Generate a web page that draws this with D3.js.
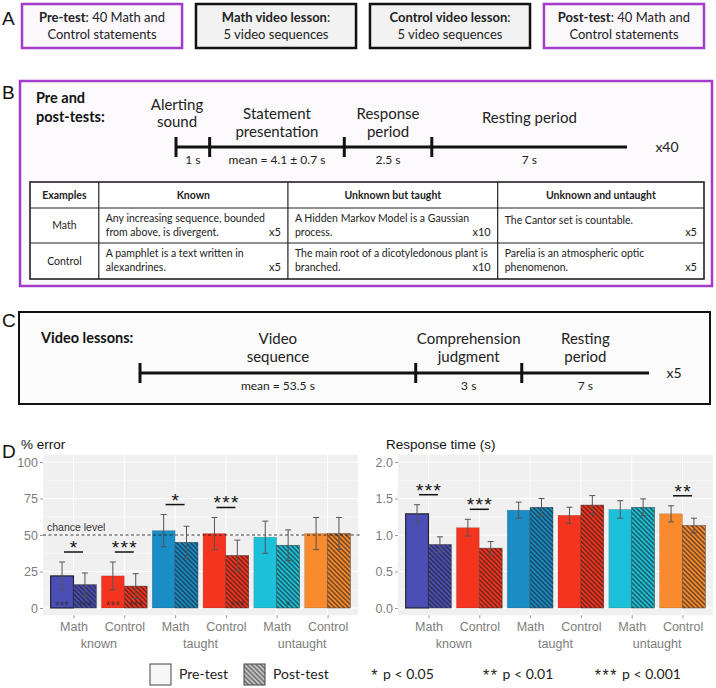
<!DOCTYPE html>
<html>
<head>
<meta charset="utf-8">
<script src="https://cdn.jsdelivr.net/npm/d3@7"></script>
<style>
  body { margin: 0; background: #fff; }
  svg { display: block; }
</style>
</head>
<body>
<div id="figure"></div>
<script>
// panel A: steps of the study
const stepTitles = ["Pre-test", "Math video lesson", "Control video lesson", "Post-test"];
const stepRest = [": 40 Math and", ":", ":", ": 40 Math and"];
const stepLine2 = ["Control statements", "5 video sequences", "5 video sequences", "Control statements"];

// panel B: one test trial
const testPhases = [["Alerting", "sound"], ["Statement", "presentation"], ["Response", "period"], ["Resting period"]];
const testDurations = ["1 s", "mean = 4.1 \u00b1 0.7 s", "2.5 s", "7 s"];
const testPhaseWeights = [1, 4, 2.6, 5.8]; // schematic widths, not to scale
const testRepeat = "x40";

const tableCols = ["Examples", "Known", "Unknown but taught", "Unknown and untaught"];
const tableColWeights = [1, 2.75, 3.05, 3];
const tableRows = ["Math", "Control"];
const mathExamples = [
    ["Any increasing sequence, bounded", "from above, is divergent."],
    ["A Hidden Markov Model is a Gaussian", "process."],
    ["The Cantor set is countable."],
];
const controlExamples = [
    ["A pamphlet is a text written in", "alexandrines."],
    ["The main root of a dicotyledonous plant is", "branched."],
    ["Parelia is an atmospheric optic", "phenomenon."],
];
const exampleCounts = ["x5", "x10", "x5"];

// panel C: one video sequence
const videoPhases = [["Video", "sequence"], ["Comprehension", "judgment"], ["Resting", "period"]];
const videoDurations = ["mean = 53.5 s", "3 s", "7 s"];
const videoPhaseWeights = [2.6, 1, 1.2];
const videoRepeat = "x5";

// panel D: results, one entry per statement type
const subjects = ["Math", "Control", "Math", "Control", "Math", "Control"];
const knowledge = ["known", "taught", "untaught"];

const errorPre = [22, 22, 53, 51, 48.5, 51];
const errorPreSE = [9.5, 9.5, 11, 11, 11, 11];
const errorPost = [16, 15, 45, 36, 43, 51];
const errorPostSE = [8, 8.5, 11, 10.5, 10.5, 11];
const errorSig = ["*", "***", "*", "***", "", ""];
const errorVsChancePre = ["***", "***", "", "", "", ""];
const errorVsChancePost = ["***", "***", "", "***", "*", ""];
const chanceLevel = 50;
const errorTicks = [0, 25, 50, 75, 100];

const rtPre = [1.29, 1.10, 1.34, 1.27, 1.35, 1.29];
const rtPreSE = [0.125, 0.115, 0.11, 0.11, 0.12, 0.11];
const rtPost = [0.87, 0.82, 1.38, 1.41, 1.38, 1.13];
const rtPostSE = [0.105, 0.09, 0.12, 0.13, 0.115, 0.10];
const rtSig = ["***", "***", "", "", "", "**"];
const rtTicks = [0, 0.5, 1, 1.5, 2];

const sigLegend = [["*", "p < 0.05"], ["**", "p < 0.01"], ["***", "p < 0.001"]];

(function () {
    const W = 716, H = 688;
    const SANS = "Lato, 'Open Sans', sans-serif";
    const ARIAL = "'Liberation Sans', Arial, sans-serif";
    const PURPLE = "#a43ccb";
    const groupColors = ["#4b4eb4", "#f4341f", "#1a8dc6", "#f4341f", "#1cc1d9", "#f98a2d"];

    const svg = d3.select("#figure").append("svg")
        .attr("width", W).attr("height", H)
        .attr("viewBox", [0, 0, W, H]);
    const defs = svg.append("defs");

    function panelLetter(letter, x, y) {
        svg.append("text").attr("x", x).attr("y", y).attr("dy", "0.35em")
            .attr("font-family", ARIAL).attr("font-size", 19).attr("fill", "#111")
            .text(letter);
    }

    // ---------- A ----------
    panelLetter("A", 2, 18);
    const stepX = d3.scaleBand().domain(d3.range(stepTitles.length)).range([22, 704]).paddingInner(0.08);
    stepTitles.forEach((t, i) => {
        const purple = i === 0 || i === stepTitles.length - 1;
        const x = stepX(i), w = stepX.bandwidth();
        svg.append("rect").attr("x", x).attr("y", 4).attr("width", w).attr("height", 44)
            .attr("fill", purple ? "#fcf9fd" : "#f2f2f2")
            .attr("stroke", purple ? PURPLE : "#111").attr("stroke-width", 2.5);
        const txt = svg.append("text").attr("x", x + w / 2).attr("text-anchor", "middle")
            .attr("font-family", SANS).attr("font-size", 13).attr("fill", "#222");
        const l1 = txt.append("tspan").attr("x", x + w / 2).attr("y", 17).attr("dy", "0.35em");
        l1.append("tspan").attr("font-weight", "bold").text(t);
        l1.append("tspan").text(stepRest[i]);
        txt.append("tspan").attr("x", x + w / 2).attr("y", 34).attr("dy", "0.35em").text(stepLine2[i]);
    });

    // ---------- B ----------
    svg.append("rect").attr("x", 20).attr("y", 81).attr("width", 692).attr("height", 205)
        .attr("fill", "#fcfafc").attr("stroke", PURPLE).attr("stroke-width", 2.5);
    panelLetter("B", 2, 92);
    svg.append("text").attr("font-family", SANS).attr("font-weight", "bold").attr("font-size", 14.5)
        .attr("fill", "#111")
        .selectAll("tspan").data(["Pre and", "post-tests:"]).join("tspan")
        .attr("x", 36).attr("y", (d, i) => 98 + i * 19).attr("dy", "0.35em").text(d => d);

    function timeline(weights, x0, x1, yLine, labels, durations, repeat, repeatX, labelPos) {
        const cum = [0, ...d3.cumsum(weights)];
        const x = d3.scaleLinear().domain([0, cum[cum.length - 1]]).range([x0, x1]);
        svg.append("line").attr("x1", x(0)).attr("x2", x(cum[cum.length - 1]))
            .attr("y1", yLine).attr("y2", yLine).attr("stroke", "#111").attr("stroke-width", 3);
        svg.append("g").selectAll("line").data(cum.slice(0, -1)).join("line")
            .attr("x1", d => x(d)).attr("x2", d => x(d))
            .attr("y1", yLine - 10).attr("y2", yLine + 10)
            .attr("stroke", "#111").attr("stroke-width", 3);
        labels.forEach((lines, i) => {
            const [cx, ys] = labelPos(i, x(cum[i]), (x(cum[i]) + x(cum[i + 1])) / 2, lines.length);
            svg.append("text").attr("text-anchor", "middle").attr("font-family", SANS)
                .attr("font-size", 15).attr("fill", "#222")
                .selectAll("tspan").data(lines).join("tspan")
                .attr("x", cx).attr("y", (d, j) => ys[j]).attr("dy", "0.35em").text(d => d);
        });
        svg.append("g").selectAll("text").data(durations).join("text")
            .attr("x", (d, i) => (x(cum[i]) + x(cum[i + 1])) / 2).attr("y", yLine + 13).attr("dy", "0.35em")
            .attr("text-anchor", "middle").attr("font-family", SANS).attr("font-size", 12).attr("fill", "#222")
            .text(d => d);
        svg.append("text").attr("x", repeatX).attr("y", yLine).attr("dy", "0.35em")
            .attr("text-anchor", "middle").attr("font-family", SANS).attr("font-size", 14).attr("fill", "#222")
            .text(repeat);
    }

    timeline(testPhaseWeights, 176, 627, 147, testPhases, testDurations, testRepeat, 667,
        (i, start, mid, n) => {
            if (i === 0) return [start + 1, [105, 122]];
            return n === 1 ? [mid, [118]] : [mid, [114, 132]];
        });

    // examples table
    const colCum = [0, ...d3.cumsum(tableColWeights)];
    const colX = d3.scaleLinear().domain([0, colCum[colCum.length - 1]]).range([30, 704]);
    const rowY = [182, 208, 243, 279];
    const table = svg.append("g").attr("font-family", SANS).attr("fill", "#222");
    table.append("rect").attr("x", colX(0)).attr("y", rowY[0])
        .attr("width", colX(colCum[colCum.length - 1]) - colX(0)).attr("height", rowY[3] - rowY[0])
        .attr("fill", "#fff").attr("stroke", "#222").attr("stroke-width", 1.6);
    colCum.slice(1, -1).forEach(c => {
        table.append("line").attr("x1", colX(c)).attr("x2", colX(c)).attr("y1", rowY[0]).attr("y2", rowY[3])
            .attr("stroke", "#222").attr("stroke-width", 1.2);
    });
    rowY.slice(1, -1).forEach(y => {
        table.append("line").attr("x1", colX(0)).attr("x2", colX(colCum[colCum.length - 1])).attr("y1", y).attr("y2", y)
            .attr("stroke", "#222").attr("stroke-width", 1.2);
    });
    tableCols.forEach((c, i) => {
        table.append("text").attr("x", (colX(colCum[i]) + colX(colCum[i + 1])) / 2)
            .attr("y", (rowY[0] + rowY[1]) / 2).attr("dy", "0.35em").attr("text-anchor", "middle")
            .attr("font-weight", "bold").attr("font-size", 10.5).text(c);
    });
    [mathExamples, controlExamples].forEach((examples, r) => {
        const top = rowY[r + 1], bottom = rowY[r + 2];
        table.append("text").attr("x", (colX(0) + colX(colCum[1])) / 2).attr("y", (top + bottom) / 2)
            .attr("dy", "0.35em").attr("text-anchor", "middle").attr("font-size", 10.5).text(tableRows[r]);
        examples.forEach((lines, c) => {
            const left = colX(colCum[c + 1]), right = colX(colCum[c + 2]);
            const ys = lines.length === 1 ? [top + 12] : [top + 10.5, top + 24.5];
            table.append("text").attr("font-size", 10.5)
                .selectAll("tspan").data(lines).join("tspan")
                .attr("x", left + 7).attr("y", (d, j) => ys[j]).attr("dy", "0.35em").text(d => d);
            table.append("text").attr("x", right - 7).attr("y", top + 24.5).attr("dy", "0.35em")
                .attr("text-anchor", "end").attr("font-size", 11).text(exampleCounts[c]);
        });
    });

    // ---------- C ----------
    svg.append("rect").attr("x", 19).attr("y", 312).attr("width", 691).attr("height", 92)
        .attr("fill", "#fbfbfb").attr("stroke", "#111").attr("stroke-width", 2);
    panelLetter("C", 2, 320);
    svg.append("text").attr("x", 41).attr("y", 338).attr("dy", "0.35em")
        .attr("font-family", SANS).attr("font-weight", "bold").attr("font-size", 14.5).attr("fill", "#111")
        .text("Video lessons:");
    timeline(videoPhaseWeights, 140, 649, 373, videoPhases, videoDurations, videoRepeat, 674,
        (i, start, mid) => [mid, [339, 357]]);

    // ---------- D ----------
    panelLetter("D", 2, 451);

    // hatch patterns for post-test bars
    groupColors.concat(["#c4c4c4"]).forEach((c, i) => {
        const p = defs.append("pattern").attr("id", `hatch${i}`)
            .attr("patternUnits", "userSpaceOnUse").attr("width", 3.3).attr("height", 3.3)
            .attr("patternTransform", "rotate(-45)");
        p.append("rect").attr("width", 3.3).attr("height", 3.3).attr("fill", c);
        p.append("line").attr("x1", 1.65).attr("x2", 1.65).attr("y1", 0).attr("y2", 3.3)
            .attr("stroke", i < groupColors.length ? "#1c1c1c" : "#3a3a3a").attr("stroke-width", 1.1)
            .attr("stroke-opacity", 0.85);
    });

    function barPanel(o) {
        const g = svg.append("g");
        const x = d3.scalePoint().domain(d3.range(subjects.length)).range([o.x0, o.x1]).padding(0.6);
        const bw = x.step() * 0.9;
        const dodge = d3.scaleBand().domain(["pre", "post"]).range([-bw / 2, bw / 2]);
        const y = o.y;
        const [yBot, yTop] = y.range();

        // ggplot style panel
        g.append("rect").attr("x", o.x0).attr("y", yTop).attr("width", o.x1 - o.x0).attr("height", yBot - yTop)
            .attr("fill", "#f0f0f0");
        const minor = o.ticks.slice(0, -1).map((t, i) => (t + o.ticks[i + 1]) / 2);
        g.append("g").selectAll("line").data(minor).join("line")
            .attr("x1", o.x0).attr("x2", o.x1).attr("y1", d => y(d)).attr("y2", d => y(d))
            .attr("stroke", "#fff").attr("stroke-width", 0.5);
        g.append("g").selectAll("line").data(o.ticks).join("line")
            .attr("x1", o.x0).attr("x2", o.x1).attr("y1", d => y(d)).attr("y2", d => y(d))
            .attr("stroke", "#fff").attr("stroke-width", 1);
        g.append("g").selectAll("line").data(x.domain()).join("line")
            .attr("x1", d => x(d)).attr("x2", d => x(d)).attr("y1", yTop).attr("y2", yBot)
            .attr("stroke", "#fff").attr("stroke-width", 1);

        // axes
        const yAxis = g.append("g").attr("transform", `translate(${o.x0},0)`)
            .call(d3.axisLeft(y).tickValues(o.ticks).tickSize(3).tickPadding(2).tickFormat(o.fmt));
        const xAxis = g.append("g").attr("transform", `translate(0,${yBot})`)
            .call(d3.axisBottom(x).tickSize(3).tickPadding(3.5).tickFormat(i => subjects[i]));
        [yAxis, xAxis].forEach(a => {
            a.select(".domain").remove();
            a.selectAll(".tick line").attr("stroke", "#9a9a9a");
            a.selectAll(".tick text").attr("fill", "#7d7d7d").attr("font-family", ARIAL).attr("font-size", 12.5);
        });
        g.append("g").selectAll("text").data(knowledge).join("text")
            .attr("x", (d, i) => (x(2 * i) + x(2 * i + 1)) / 2).attr("y", 647.5)
            .attr("text-anchor", "middle").attr("fill", "#7d7d7d")
            .attr("font-family", ARIAL).attr("font-size", 12.5).text(d => d);

        g.append("text").attr("x", o.titleX).attr("y", 444).attr("dy", "0.35em")
            .attr("font-family", ARIAL).attr("font-size", 13.5).attr("fill", "#111").text(o.title);

        // bars
        const rows = [];
        x.domain().forEach(i => {
            rows.push({ i, k: "pre", v: o.pre[i], se: o.preSE[i] });
            rows.push({ i, k: "post", v: o.post[i], se: o.postSE[i] });
        });
        g.append("g").selectAll("rect").data(rows).join("rect")
            .attr("x", d => x(d.i) + dodge(d.k))
            .attr("y", d => y(d.v))
            .attr("width", dodge.bandwidth())
            .attr("height", d => y(0) - y(d.v))
            .attr("fill", d => d.k === "pre" ? groupColors[d.i] : `url(#hatch${d.i})`)
            .attr("stroke", d => d.k === "pre" && d.i === 0 ? "#111" : "#333")
            .attr("stroke-width", d => d.k === "pre" && d.i === 0 ? 1.1 : 0.5)
            .attr("stroke-opacity", d => d.k === "pre" && d.i !== 0 ? 0.35 : 0.9);

        if (o.chance !== undefined) {
            g.append("line").attr("x1", o.x0).attr("x2", o.x1 + 2)
                .attr("y1", y(o.chance)).attr("y2", y(o.chance))
                .attr("stroke", "#222").attr("stroke-width", 0.9).attr("stroke-dasharray", "3,2.5");
            g.append("text").attr("x", o.x0 + 4).attr("y", y(o.chance) - 4)
                .attr("font-family", ARIAL).attr("font-size", 10.5).attr("fill", "#333").text("chance level");
        }

        // error bars
        const eb = g.append("g").attr("stroke", "#555").attr("stroke-width", 1);
        eb.selectAll("g").data(rows).join("g").each(function (d) {
            const cx = x(d.i) + dodge(d.k) + dodge.bandwidth() / 2;
            const s = d3.select(this);
            s.append("line").attr("x1", cx).attr("x2", cx).attr("y1", y(d.v - d.se)).attr("y2", y(d.v + d.se));
            [d.v - d.se, d.v + d.se].forEach(v => {
                s.append("line").attr("x1", cx - 3).attr("x2", cx + 3).attr("y1", y(v)).attr("y2", y(v));
            });
        });

        // stars inside bars: difference from chance level
        if (o.vsChance) {
            const inside = rows.filter(d => (d.k === "pre" ? o.vsChance[0] : o.vsChance[1])[d.i]);
            g.append("g").selectAll("text").data(inside).join("text")
                .attr("x", d => x(d.i) + dodge(d.k) + dodge.bandwidth() / 2)
                .attr("y", y(0) + 2.2).attr("text-anchor", "middle")
                .attr("font-family", ARIAL).attr("font-size", 12).attr("fill", "#2a2a2a").attr("fill-opacity", 0.75)
                .text(d => (d.k === "pre" ? o.vsChance[0] : o.vsChance[1])[d.i]);
        }

        // pre vs post significance
        const sigs = x.domain().filter(i => o.sig[i]);
        sigs.forEach(i => {
            const top = Math.max(o.pre[i] + o.preSE[i], o.post[i] + o.postSE[i]);
            const ly = y(top) - 10;
            g.append("line").attr("x1", x(i) - 9.5).attr("x2", x(i) + 9.5).attr("y1", ly).attr("y2", ly)
                .attr("stroke", "#111").attr("stroke-width", 1.5);
            g.append("text").attr("x", x(i) + 0.7).attr("y", ly + 2).attr("text-anchor", "middle")
                .attr("font-family", ARIAL).attr("font-size", 19).attr("letter-spacing", 1.4)
                .attr("fill", "#111").text(o.sig[i]);
        });
    }

    barPanel({
        x0: 43, x1: 358,
        y: d3.scaleLinear().domain([-5, 105]).range([615.3, 454.7]),
        pre: errorPre, preSE: errorPreSE, post: errorPost, postSE: errorPostSE,
        sig: errorSig, vsChance: [errorVsChancePre, errorVsChancePost], chance: chanceLevel,
        ticks: errorTicks, fmt: d3.format("d"), title: "% error", titleX: 21,
    });
    barPanel({
        x0: 398, x1: 713,
        y: d3.scaleLinear().domain([-0.1, 2.1]).range([615.3, 454.7]),
        pre: rtPre, preSE: rtPreSE, post: rtPost, postSE: rtPostSE,
        sig: rtSig, ticks: rtTicks, fmt: d3.format(".1f"), title: "Response time (s)", titleX: 386,
    });

    // legend
    const lg = svg.append("g").attr("font-family", SANS).attr("font-size", 14).attr("fill", "#222");
    lg.append("rect").attr("x", 150).attr("y", 664).attr("width", 21).attr("height", 21)
        .attr("fill", "#f6f6f6").attr("stroke", "#444").attr("stroke-width", 1);
    lg.append("text").attr("x", 179).attr("y", 674.5).attr("dy", "0.35em").text("Pre-test");
    lg.append("rect").attr("x", 244).attr("y", 664).attr("width", 21).attr("height", 21)
        .attr("fill", `url(#hatch${groupColors.length})`).attr("stroke", "#444").attr("stroke-width", 1);
    lg.append("text").attr("x", 273).attr("y", 674.5).attr("dy", "0.35em").text("Post-test");
    const legendX = d3.scalePoint().domain(d3.range(sigLegend.length)).range([383, 622]);
    sigLegend.forEach(([stars, label], i) => {
        const tx = legendX(i);
        lg.append("text").attr("x", tx - 4).attr("y", 681).attr("text-anchor", "end")
            .attr("font-family", ARIAL).attr("font-size", 16).attr("letter-spacing", 1.5).text(stars);
        lg.append("text").attr("x", tx).attr("y", 674.5).attr("dy", "0.35em").text(label);
    });
})();
</script>
</body>
</html>
